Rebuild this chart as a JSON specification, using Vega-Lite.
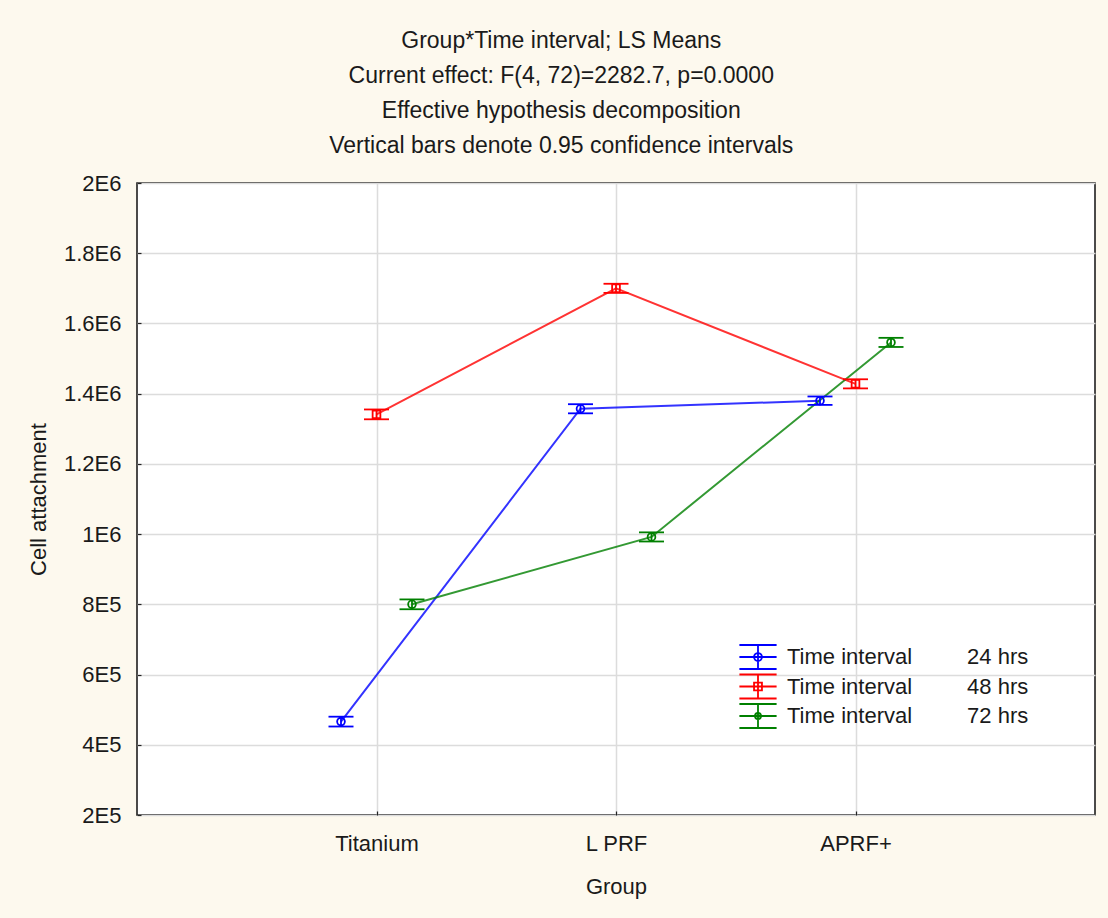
{
  "$schema": "https://vega.github.io/schema/vega-lite/v6.json",
  "width": 958,
  "height": 632,
  "autosize": {"type": "none"},
  "padding": {"left": 137, "top": 183, "right": 13, "bottom": 103},
  "background": "#fdf9ee",
  "title": {
    "text": ["Group*Time interval; LS Means", "Current effect: F(4, 72)=2282.7, p=0.0000", "Effective hypothesis decomposition", "Vertical bars denote 0.95 confidence intervals"],
    "font": "Liberation Sans",
    "fontSize": 23,
    "fontWeight": "normal",
    "color": "#1a1a1a",
    "lineHeight": 35,
    "anchor": "middle",
    "frame": "bounds",
    "offset": 14
  },
  "config": {
    "view": {"stroke": "#111111", "strokeWidth": 1.5, "fill": "#ffffff"},
    "axis": {
      "labelFont": "Liberation Sans",
      "labelFontSize": 22,
      "labelColor": "#1a1a1a",
      "titleFont": "Liberation Sans",
      "titleFontSize": 22,
      "titleFontWeight": "normal",
      "titleColor": "#1a1a1a",
      "gridColor": "#dcdcdc",
      "gridWidth": 1.5,
      "domain": false,
      "tickColor": "#222222",
      "tickSize": -4,
      "tickWidth": 1.2
    },
    "legend": {
      "labelFont": "Liberation Sans",
      "labelFontSize": 22,
      "labelColor": "#1a1a1a",
      "labelLimit": 0,
      "labelOffset": 16,
      "symbolSize": 576,
      "symbolStrokeWidth": 1.8,
      "symbolOpacity": 1,
      "symbolFillColor": "transparent",
      "rowPadding": -2.5
    }
  },
  "data": {
    "values": [
      {"group": "Titanium", "time": "24 hrs", "mean": 466000, "lower": 452000, "upper": 480000},
      {"group": "Titanium", "time": "48 hrs", "mean": 1341000, "lower": 1327000, "upper": 1355000},
      {"group": "Titanium", "time": "72 hrs", "mean": 800000, "lower": 786000, "upper": 814000},
      {"group": "L PRF", "time": "24 hrs", "mean": 1357000, "lower": 1344000, "upper": 1370000},
      {"group": "L PRF", "time": "48 hrs", "mean": 1700000, "lower": 1687000, "upper": 1713000},
      {"group": "L PRF", "time": "72 hrs", "mean": 992000, "lower": 979000, "upper": 1005000},
      {"group": "APRF+", "time": "24 hrs", "mean": 1380000, "lower": 1368000, "upper": 1392000},
      {"group": "APRF+", "time": "48 hrs", "mean": 1428000, "lower": 1415000, "upper": 1441000},
      {"group": "APRF+", "time": "72 hrs", "mean": 1546000, "lower": 1533000, "upper": 1559000}
    ]
  },
  "encoding": {
    "x": {
      "field": "group",
      "type": "nominal",
      "sort": ["Titanium", "L PRF", "APRF+"],
      "scale": {"type": "point", "padding": 1},
      "axis": {"labelAngle": 0, "title": "Group", "grid": true, "labelPadding": 22, "titlePadding": 22}
    },
    "xOffset": {
      "field": "time",
      "type": "nominal",
      "scale": {"type": "point", "padding": 0, "range": [-35.5, 35.5]}
    },
    "color": {
      "condition": [
        {"test": "datum.time === '24 hrs'", "value": "#0000ff"},
        {"test": "datum.time === '48 hrs'", "value": "#ff0000"}
      ],
      "value": "#008000"
    }
  },
  "layer": [
    {
      "mark": {"type": "line", "strokeWidth": 2, "opacity": 0.8},
      "encoding": {
        "y": {
          "field": "mean",
          "type": "quantitative",
          "title": "Cell attachment",
          "scale": {"domain": [200000, 2000000], "nice": false, "zero": false},
          "axis": {
            "values": [200000, 400000, 600000, 800000, 1000000, 1200000, 1400000, 1600000, 1800000, 2000000],
            "labelExpr": "replace(format(datum.value, '.2~e'), 'e+', 'E')",
            "labelPadding": 20,
            "titlePadding": 13
          }
        },
        "detail": {"field": "time", "type": "nominal"}
      }
    },
    {
      "mark": {"type": "rule", "strokeWidth": 1.8, "opacity": 1},
      "encoding": {
        "y": {"field": "lower", "type": "quantitative", "title": "Cell attachment"},
        "y2": {"field": "upper"}
      }
    },
    {
      "mark": {"type": "tick", "size": 25, "thickness": 1.8, "opacity": 1},
      "encoding": {
        "y": {"field": "lower", "type": "quantitative", "title": "Cell attachment"}
      }
    },
    {
      "mark": {"type": "tick", "size": 25, "thickness": 1.8, "opacity": 1},
      "encoding": {
        "y": {"field": "upper", "type": "quantitative", "title": "Cell attachment"}
      }
    },
    {
      "mark": {"type": "point", "filled": false, "size": 60, "strokeWidth": 1.8, "opacity": 1},
      "encoding": {
        "y": {"field": "mean", "type": "quantitative", "title": "Cell attachment"},
        "shape": {"condition": {"test": "datum.time === '48 hrs'", "value": "square"}, "value": "circle"}
      }
    },
    {
      "mark": {"type": "point", "filled": false, "size": 0, "strokeWidth": 1.8, "opacity": 1},
      "encoding": {
        "y": {"field": "mean", "type": "quantitative", "title": "Cell attachment"},
        "color": {
          "field": "time",
          "type": "nominal",
          "scale": {"domain": ["24 hrs", "48 hrs", "72 hrs"], "range": ["#0000ff", "#ff0000", "#008000"]},
          "legend": {
            "title": null,
            "orient": "none",
            "legendX": 608,
            "legendY": 461,
            "labelExpr": "'Time interval\u00a0\u00a0\u00a0\u00a0\u00a0\u00a0\u00a0\u00a0\u00a0' + datum.label"
          }
        },
        "shape": {
          "field": "time",
          "type": "nominal",
          "scale": {
            "domain": ["24 hrs", "48 hrs", "72 hrs"],
            "range": [
              "M-1.55,-1H1.55M-1.55,0H1.55M-1.55,1H1.55M0,-1V1M0.33,0A0.33,0.33 0 1,1 -0.33,0A0.33,0.33 0 1,1 0.33,0",
              "M-1.55,-1H1.55M-1.55,0H1.55M-1.55,1H1.55M0,-1V1M-0.33,-0.33H0.33V0.33H-0.33Z",
              "M-1.55,-1H1.55M-1.55,0H1.55M-1.55,1H1.55M0,-1V1M0.25,0A0.25,0.25 0 1,1 -0.25,0A0.25,0.25 0 1,1 0.25,0"
            ]
          },
          "legend": {
            "title": null,
            "orient": "none",
            "legendX": 608,
            "legendY": 461,
            "labelExpr": "'Time interval\u00a0\u00a0\u00a0\u00a0\u00a0\u00a0\u00a0\u00a0\u00a0' + datum.label"
          }
        }
      }
    }
  ]
}
